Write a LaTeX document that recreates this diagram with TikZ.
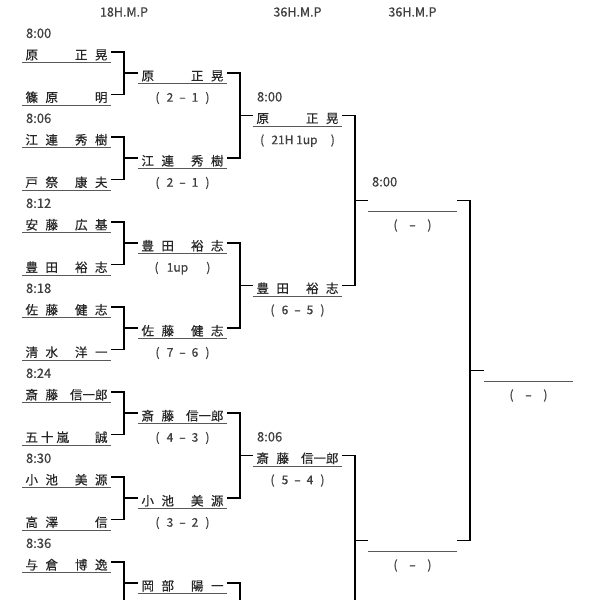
\documentclass[tikz,border=0pt]{standalone}
\usepackage{fontspec}
\setmainfont{Noto Sans CJK JP}[FakeBold=0.5]
\usetikzlibrary{positioning}

\newcommand{\gp}{\hspace{7.5pt}}
\newcommand{\nm}[2]{\makebox[82pt]{#1\hfill#2}}
\newcommand{\cell}[1]{\makebox[12.5pt]{#1}}
\newcommand{\res}[2]{\cell{(}\cell{#1}\cell{–}\cell{#2}\cell{)}}

\tikzset{
  plr/.style={inner sep=0pt, text height=18pt, text depth=3pt, minimum width=89pt,
    font=\fontsize{12.5}{14}\selectfont, text=black!85},
  uline/.style={line width=1.3pt, black!65},
  brk/.style={line width=1.8pt, black},
  score/.style={inner sep=0pt, font=\fontsize{12}{14}\selectfont, text=black!75},
  tm/.style={inner sep=0pt, font=\fontsize{13}{14}\selectfont, text=black!75},
  hdr/.style={inner sep=0pt, font=\fontsize{12.5}{14}\selectfont, text=black!75}
}

\begin{document}
\begin{tikzpicture}[x=1pt, y=-1pt]
  \useasboundingbox (0,0) rectangle (600,600);
  \clip (0,0) rectangle (600,600);

  % round 1
  \node[plr] (a1) at (66.5,52) {\nm{原}{正\gp{}晃}};
  \node[plr] (a2) at (66.5,94.5) {\nm{篠\gp{}原}{明}};
  \node[plr] (a3) at (66.5,137) {\nm{江\gp{}連}{秀\gp{}樹}};
  \node[plr] (a4) at (66.5,179.5) {\nm{戸\gp{}祭}{康\gp{}夫}};
  \node[plr] (a5) at (66.5,222) {\nm{安\gp{}藤}{広\gp{}基}};
  \node[plr] (a6) at (66.5,264.5) {\nm{豊\gp{}田}{裕\gp{}志}};
  \node[plr] (a7) at (66.5,307) {\nm{佐\gp{}藤}{健\gp{}志}};
  \node[plr] (a8) at (66.5,349.5) {\nm{清\gp{}水}{洋\gp{}一}};
  \node[plr] (a9) at (66.5,392) {\nm{斎\gp{}藤}{信一郎}};
  \node[plr] (a10) at (66.5,434.5) {\nm{五\hspace{3pt}十\hspace{3pt}嵐}{誠}};
  \node[plr] (a11) at (66.5,477) {\nm{小\gp{}池}{美\gp{}源}};
  \node[plr] (a12) at (66.5,519.5) {\nm{高\gp{}澤}{信}};
  \node[plr] (a13) at (66.5,562) {\nm{与\gp{}倉}{博\gp{}逸}};
  \node[plr] (a14) at (66.5,604.5) {};

  % round 2
  \node[plr] (b1) at (182.5,73) {\nm{原}{正\gp{}晃}};
  \node[plr] (b2) at (182.5,158) {\nm{江\gp{}連}{秀\gp{}樹}};
  \node[plr] (b3) at (182.5,243) {\nm{豊\gp{}田}{裕\gp{}志}};
  \node[plr] (b4) at (182.5,328) {\nm{佐\gp{}藤}{健\gp{}志}};
  \node[plr] (b5) at (182.5,413) {\nm{斎\gp{}藤}{信一郎}};
  \node[plr] (b6) at (182.5,498) {\nm{小\gp{}池}{美\gp{}源}};
  \node[plr] (b7) at (182.5,583) {\nm{岡\gp{}部}{陽\gp{}一}};
  \node[plr] (b8) at (182.5,668) {};

  % round 3
  \node[plr] (c1) at (297.5,115.5) {\nm{原}{正\gp{}晃}};
  \node[plr] (c2) at (297.5,285.5) {\nm{豊\gp{}田}{裕\gp{}志}};
  \node[plr] (c3) at (297.5,455.5) {\nm{斎\gp{}藤}{信一郎}};
  \node[plr] (c4) at (297.5,625.5) {};

  % semi-finals, final
  \node[plr] (d1) at (412.5,200.5) {};
  \node[plr] (d2) at (412.5,540.5) {};
  \node[plr] (fin) at (528.5,370.5) {};

  % headings
  \node[hdr] (h1) at (124,12) {18H.M.P};
  \node[hdr] (h2) at (c1 |- h1) {36H.M.P};
  \node[hdr] (h3) at (d1 |- h1) {36H.M.P};

  % start times
  \node[tm, above right=3pt and 4pt of a1.north west] {8:00};
  \node[tm, above right=3pt and 4pt of a3.north west] {8:06};
  \node[tm, above right=3pt and 4pt of a5.north west] {8:12};
  \node[tm, above right=3pt and 4pt of a7.north west] {8:18};
  \node[tm, above right=3pt and 4pt of a9.north west] {8:24};
  \node[tm, above right=3pt and 4pt of a11.north west] {8:30};
  \node[tm, above right=3pt and 4pt of a13.north west] {8:36};
  \node[tm, above right=3pt and 4pt of c1.north west] {8:00};
  \node[tm, above right=3pt and 4pt of c3.north west] {8:06};
  \node[tm, above right=3pt and 4pt of d1.north west] {8:00};

  % results
  \node[score, below=8pt of b1] {\res{2}{1}};
  \node[score, below=8pt of b2] {\res{2}{1}};
  \node[score, below=8pt of b3] {\cell{(}\hspace{4pt}1up\hspace{14pt}\cell{)}};
  \node[score, below=8pt of b4] {\res{7}{6}};
  \node[score, below=8pt of b5] {\res{4}{3}};
  \node[score, below=8pt of b6] {\res{3}{2}};
  \node[score, below=8pt of c1] {\cell{(}\hspace{3pt}21H 1up\hspace{9pt}\cell{)}};
  \node[score, below=8pt of c2] {\res{6}{5}};
  \node[score, below=8pt of c3] {\res{5}{4}};
  \node[score, below=8pt of d1] {\makebox[17pt]{(}\makebox[17pt]{–}\makebox[17pt]{)}};
  \node[score, below=8pt of d2] {\makebox[17pt]{(}\makebox[17pt]{–}\makebox[17pt]{)}};
  \node[score, below=8pt of fin] {\makebox[17pt]{(}\makebox[17pt]{–}\makebox[17pt]{)}};

  % underlines
  \foreach \n in {a1,a2,a3,a4,a5,a6,a7,a8,a9,a10,a11,a12,a13,b1,b2,b3,b4,b5,b6,b7,c1,c2,c3,d1,d2,fin}
    \draw[uline] (\n.south west) -- (\n.south east);

  % brackets
  \foreach \u/\w in {a1/b1,a2/b1,a3/b2,a4/b2,a5/b3,a6/b3,a7/b4,a8/b4,a9/b5,a10/b5,a11/b6,a12/b6,a13/b7,a14/b7,
      b1/c1,b2/c1,b3/c2,b4/c2,b5/c3,b6/c3,b7/c4,b8/c4,c1/d1,c2/d1,c3/d2,c4/d2,d1/fin,d2/fin}
    \draw[brk] (\u.east) -- ++(13,0) |- (\w.west);
\end{tikzpicture}
\end{document}
